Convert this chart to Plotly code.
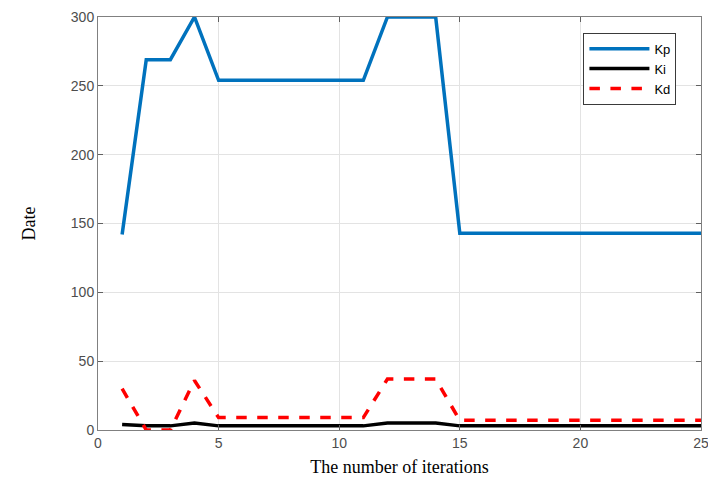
import plotly.graph_objects as go

iterations = list(range(1, 26))
kp = [142, 269, 269, 300, 254, 254, 254, 254, 254, 254, 254, 300, 300, 300,
      143, 143, 143, 143, 143, 143, 143, 143, 143, 143, 143]
ki = [4, 3, 3, 5, 3, 3, 3, 3, 3, 3, 3, 5, 5, 5,
      3, 3, 3, 3, 3, 3, 3, 3, 3, 3, 3]
kd = [30, 0, 0, 36, 9, 9, 9, 9, 9, 9, 9, 37, 37, 37,
      7, 7, 7, 7, 7, 7, 7, 7, 7, 7, 7]
x_ticks = [0, 5, 10, 15, 20, 25]
y_ticks = [0, 50, 100, 150, 200, 250, 300]

fig = go.Figure()
fig.add_trace(go.Scatter(x=iterations, y=kp, mode="lines", name="Kp",
                         line=dict(color="#0072BD", width=3.5), cliponaxis=False))
fig.add_trace(go.Scatter(x=iterations, y=ki, mode="lines", name="Ki",
                         line=dict(color="black", width=3.5), cliponaxis=False))
fig.add_trace(go.Scatter(x=iterations, y=kd, mode="lines", name="Kd",
                         line=dict(color="#FF0000", width=3.5, dash="dash"), cliponaxis=False))

axis_common = dict(showgrid=True, gridcolor="#E3E3E3", gridwidth=1,
                   showline=True, linecolor="#808080", linewidth=1, mirror="ticks",
                   ticks="inside", ticklen=5, tickcolor="#606060",
                   tickfont=dict(family="Liberation Sans, Arial", size=14, color="#4D4D4D"),
                   ticklabeloverflow="allow", automargin=False,
                   zeroline=False)

fig.update_layout(
    width=708, height=483,
    margin=dict(l=98, r=7, t=17, b=53),
    paper_bgcolor="white", plot_bgcolor="white",
    xaxis=dict(range=[0, 25], tickvals=x_ticks,
               title=dict(text="The number of iterations",
                          font=dict(family="Liberation Serif, Times New Roman", size=18, color="black"),
                          standoff=10),
               **axis_common),
    yaxis=dict(range=[0, 300], tickvals=y_ticks,
               title=dict(text="Date",
                          font=dict(family="Liberation Serif, Times New Roman", size=18, color="black"),
                          standoff=30),
               **axis_common),
    legend=dict(x=0.805, y=0.962, xanchor="left", yanchor="top",
                bgcolor="white", bordercolor="#3A3A3A", borderwidth=1,
                font=dict(family="Liberation Sans, Arial", size=13, color="black"),
                tracegroupgap=0, itemwidth=60),
    showlegend=True,
)

fig.write_html("out.html")
